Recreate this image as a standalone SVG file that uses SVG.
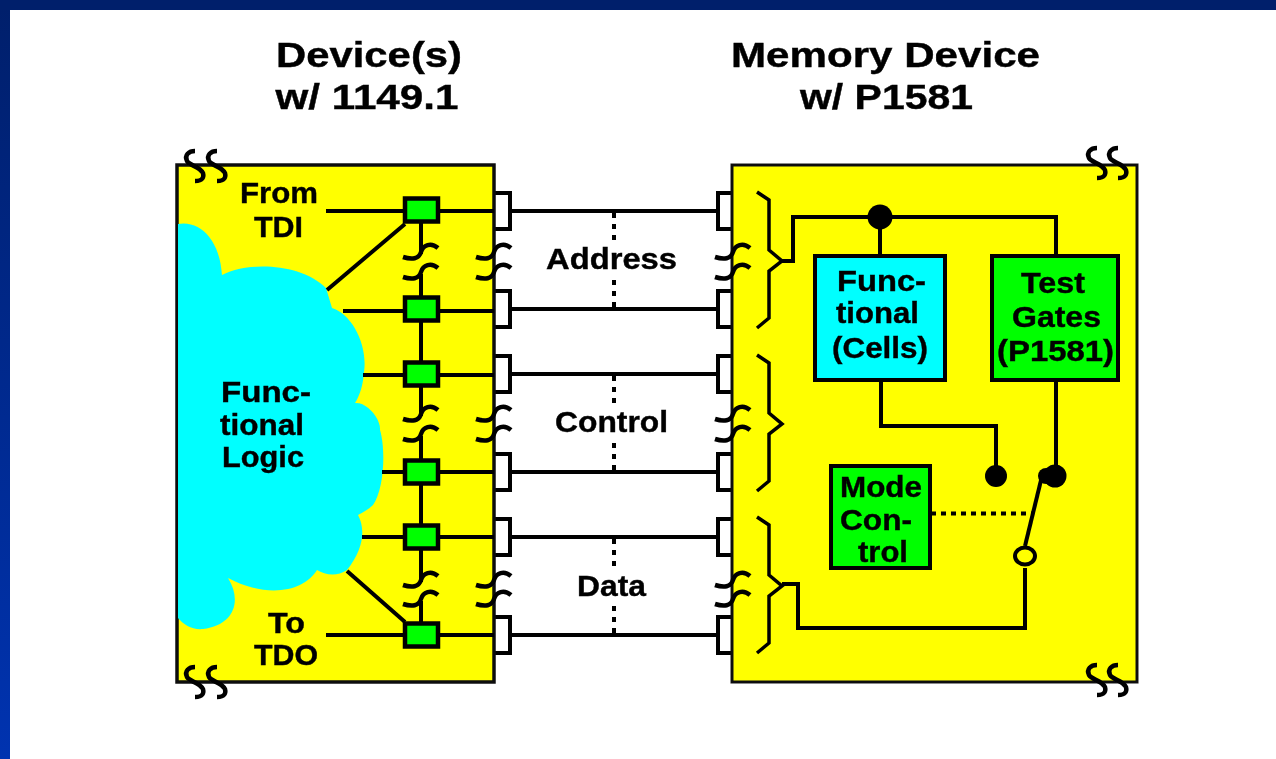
<svg xmlns="http://www.w3.org/2000/svg" width="1276" height="759" viewBox="0 0 1276 759">
<defs>
<linearGradient id="bar" x1="0" y1="0" x2="0" y2="1"><stop offset="0" stop-color="#001f6b"/><stop offset="1" stop-color="#0033b0"/></linearGradient>
<filter id="soft" filterUnits="userSpaceOnUse" x="0" y="0" width="1276" height="759"><feGaussianBlur stdDeviation="0.6"/></filter>
<path id="brk" d="M0 0C-6 0-11 4-8 10C-5 15 4 15 8 22C9 26 8 30 0 30" fill="none" stroke="#000" stroke-width="4.5"/>
<rect id="sq" x="-16" y="-11.5" width="33" height="23" class="gr"/>
<path id="pin" d="M-2-18H13V18H-2" class="pinb"/>
<path id="pinL" d="M2-18H-13V18H2" class="pinb"/>
<path id="hook" d="M-18 5C-9 8-2 7 0 0C2-7 10-10 17-4" fill="none" stroke="#000" stroke-width="4.5"/>
<path id="brace" d="M0-63L12-55V-5L25 6L12 16V63L0 73" fill="none" stroke="#000" stroke-width="3.5"/>
</defs>
<style>
text{font-family:"Liberation Sans",Arial,sans-serif;font-weight:700;fill:#000;stroke:#000;stroke-width:.4;text-anchor:middle}
.t{font-size:35px}.l{font-size:30px}
.w{fill:none;stroke:#000;stroke-width:4}
.box{stroke:#000;stroke-width:4}
.gr{fill:#00ff00;stroke:#000;stroke-width:4.5}
.pinb{fill:#fff;stroke:#000;stroke-width:4}
</style>
<rect width="1276" height="759" fill="#fff"/>
<rect width="10" height="759" fill="url(#bar)"/>
<rect width="1276" height="10" fill="#001f6b"/>
<g filter="url(#soft)">
<g id="titles">
<text class="t" x="369" y="67" textLength="186" lengthAdjust="spacingAndGlyphs">Device(s)</text>
<text class="t" x="367" y="109" textLength="183" lengthAdjust="spacingAndGlyphs">w/ 1149.1</text>
<text class="t" x="885.5" y="67" textLength="309" lengthAdjust="spacingAndGlyphs">Memory Device</text>
<text class="t" x="886.5" y="109" textLength="173" lengthAdjust="spacingAndGlyphs">w/ P1581</text>
</g>
<g id="pins-left">
<use href="#pin" x="497" y="211"/><use href="#pin" x="497" y="309"/><use href="#pin" x="497" y="374"/><use href="#pin" x="497" y="472"/><use href="#pin" x="497" y="537"/><use href="#pin" x="497" y="635"/>
</g>
<g id="pins-right">
<use href="#pinL" x="731" y="211"/><use href="#pinL" x="731" y="309"/><use href="#pinL" x="731" y="374"/><use href="#pinL" x="731" y="472"/><use href="#pinL" x="731" y="537"/><use href="#pinL" x="731" y="635"/>
</g>
<g id="left-device">
<rect x="177" y="165" width="317" height="517" fill="#ff0" stroke="#111" stroke-width="3.5"/>
<path d="M178 224C200 220 220 240 222 275C245 262 300 262 326 288L332 308C352 314 368 345 364 372C363 385 360 395 355 403C368 402 381 420 380 430C386 450 384 490 373 505C368 510 363 512 358 515C366 530 363 550 347 570C337 577 325 575 317 570C305 590 270 600 228 578C242 600 235 625 203 629C192 630 184 625 178 618Z" fill="#0ff"/>
</g>
<g id="right-device">
<rect x="732" y="165" width="405" height="517" fill="#ff0" stroke="#111" stroke-width="3"/>
</g>
<g id="connectors">
<path class="w" d="M326 211H494M511 211H718M326 635H494M511 635H718M343 311H494M511 309H718M363 375H494M511 374H718M382 472H494M511 472H718M362 537H494M511 537H718M327 290L405 224M347 571L405 622"/>
<path class="w" d="M421 223V254M421 274V297M421 320V361M421 386V416M421 436V460M421 484V524M421 549V582M421 601V622"/>
<path d="M614 213V241M614 280V309M614 376V404M614 443V472M614 539V567M614 606V635" fill="none" stroke="#000" stroke-width="4" stroke-dasharray="5 6"/>
<path class="w" d="M880 217V255M782 261H793V217H1056V255M881 380V426H996V470M1056 380V470M782 584H798V628H1025V568"/>
<path d="M1025 546L1043 472" class="w"/>
<path d="M931 513.5H1033" fill="none" stroke="#000" stroke-width="4" stroke-dasharray="5 5"/>
<circle cx="880" cy="217" r="12.5"/>
<circle cx="996" cy="476" r="11"/>
<circle cx="1055" cy="476" r="11.5"/>
<circle cx="1046" cy="476" r="8"/>
<ellipse cx="1025" cy="556" rx="10" ry="8.5" fill="#ff0" stroke="#000" stroke-width="4"/>
</g>
<g id="squares">
<use href="#sq" x="421" y="210"/><use href="#sq" x="421" y="309"/><use href="#sq" x="421" y="374"/><use href="#sq" x="421" y="472"/><use href="#sq" x="421" y="537"/><use href="#sq" x="421" y="635"/>
</g>
<g id="breaks">
<use href="#hook" x="421" y="252"/><use href="#hook" x="421" y="272"/><use href="#hook" x="421" y="414"/><use href="#hook" x="421" y="434"/><use href="#hook" x="421" y="580"/><use href="#hook" x="421" y="599"/>
<use href="#hook" x="494" y="252"/><use href="#hook" x="494" y="272"/><use href="#hook" x="494" y="414"/><use href="#hook" x="494" y="434"/><use href="#hook" x="494" y="580"/><use href="#hook" x="494" y="599"/>
<use href="#hook" x="733" y="252"/><use href="#hook" x="733" y="272"/><use href="#hook" x="733" y="414"/><use href="#hook" x="733" y="434"/><use href="#hook" x="733" y="580"/><use href="#hook" x="733" y="599"/>
<use href="#brk" x="195" y="151"/><use href="#brk" x="217" y="151"/><use href="#brk" x="195" y="667"/><use href="#brk" x="217" y="667"/>
<use href="#brk" x="1097" y="148"/><use href="#brk" x="1118" y="148"/><use href="#brk" x="1097" y="665"/><use href="#brk" x="1118" y="665"/>
</g>
<g id="braces">
<use href="#brace" x="757" y="255"/><use href="#brace" x="757" y="418"/><use href="#brace" x="757" y="580"/>
</g>
<g id="functional-cells"><rect x="815" y="256" width="130" height="124" fill="#0ff" class="box"/></g>
<g id="test-gates"><rect x="992" y="256" width="126" height="124" fill="#00ff00" class="box"/></g>
<g id="mode-control"><rect x="831" y="466" width="99" height="102" fill="#00ff00" class="box"/></g>
<g id="labels">
<text class="l" x="279" y="203" textLength="78" lengthAdjust="spacingAndGlyphs">From</text><text class="l" x="278.500" y="237" textLength="49" lengthAdjust="spacingAndGlyphs">TDI</text>
<text class="l" x="286.500" y="633" textLength="37" lengthAdjust="spacingAndGlyphs">To</text><text class="l" x="286" y="665" textLength="64" lengthAdjust="spacingAndGlyphs">TDO</text>
<text class="l" x="266" y="402" textLength="90" lengthAdjust="spacingAndGlyphs">Func-</text><text class="l" x="262" y="435" textLength="84" lengthAdjust="spacingAndGlyphs">tional</text><text class="l" x="263" y="467" textLength="82" lengthAdjust="spacingAndGlyphs">Logic</text>
<text class="l" x="611.500" y="269" textLength="131" lengthAdjust="spacingAndGlyphs">Address</text><text class="l" x="611.500" y="432" textLength="113" lengthAdjust="spacingAndGlyphs">Control</text><text class="l" x="611.500" y="596" textLength="69" lengthAdjust="spacingAndGlyphs">Data</text>
<text class="l" x="881.500" y="291" textLength="89" lengthAdjust="spacingAndGlyphs">Func-</text><text class="l" x="877.500" y="323" textLength="83" lengthAdjust="spacingAndGlyphs">tional</text><text class="l" x="880" y="358" textLength="96" lengthAdjust="spacingAndGlyphs">(Cells)</text>
<text class="l" x="1053" y="293" textLength="64" lengthAdjust="spacingAndGlyphs">Test</text><text class="l" x="1056.500" y="327" textLength="89" lengthAdjust="spacingAndGlyphs">Gates</text><text class="l" x="1055.500" y="361" textLength="117" lengthAdjust="spacingAndGlyphs">(P1581)</text>
<text class="l" x="881" y="497" textLength="82" lengthAdjust="spacingAndGlyphs">Mode</text><text class="l" x="876" y="530" textLength="72" lengthAdjust="spacingAndGlyphs">Con-</text><text class="l" x="883" y="562" textLength="50" lengthAdjust="spacingAndGlyphs">trol</text>
</g>
</g>
</svg>
